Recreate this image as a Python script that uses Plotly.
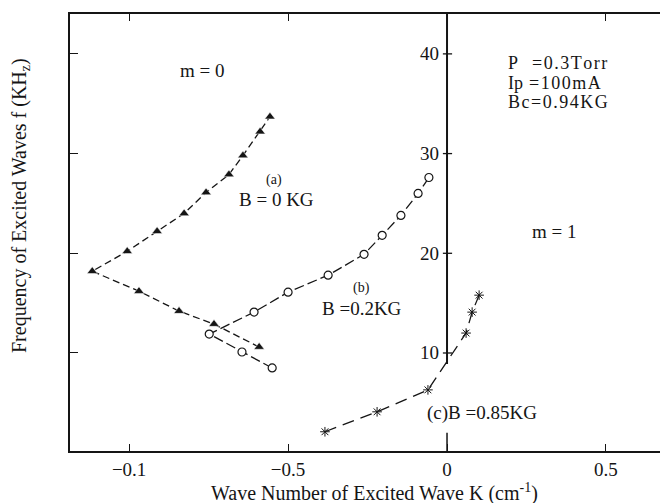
import plotly.graph_objects as go

# ---- data ----
a_k = [-0.591, -0.733, -0.843, -0.969, -1.116, -1.006, -0.912, -0.827, -0.758, -0.686, -0.642, -0.588, -0.557]
a_f = [10.6, 12.9, 14.2, 16.2, 18.2, 20.2, 22.2, 24.0, 26.1, 27.9, 29.8, 32.2, 33.7]

b_k = [-0.550, -0.645, -0.748, -0.607, -0.500, -0.374, -0.261, -0.204, -0.145, -0.091, -0.057]
b_f = [8.5, 10.1, 11.9, 14.1, 16.1, 17.8, 19.9, 21.8, 23.8, 26.0, 27.6]

c_k = [-0.384, -0.220, -0.060, 0.060, 0.079, 0.101]
c_f = [2.1, 4.1, 6.3, 12.0, 14.1, 15.8]

x_tickvals = [-1.0, -0.5, 0, 0.5]
x_ticktext = ["\u22120.1", "\u22120.5", "0", "0.5"]
y_tickvals = [10, 20, 30, 40]
y_ticktext = ["10", "20", "30", "40"]

X_RANGE = [-1.186, 0.670]
Y_RANGE = [0.17, 44.0]

FONT = "Liberation Serif, Times New Roman, serif"
INK = "#151515"


def spaced(s, sp="\u200a"):
    return sp.join(s)


fig = go.Figure()

fig.add_trace(go.Scatter(
    x=a_k, y=a_f, mode="lines+markers",
    line=dict(color=INK, width=1.3, dash="7px,4px"),
    marker=dict(symbol="triangle-up", size=9, color=INK, line=dict(color="white", width=0.5)),
    showlegend=False))

fig.add_trace(go.Scatter(
    x=b_k, y=b_f, mode="lines+markers",
    line=dict(color=INK, width=1.3, dash="10px,4px"),
    marker=dict(symbol="circle", size=8, color="white", line=dict(color=INK, width=1.2)),
    showlegend=False))

fig.add_trace(go.Scatter(
    x=c_k, y=c_f, mode="lines+markers",
    line=dict(color=INK, width=1.3, dash="12px,7px"),
    marker=dict(symbol="asterisk-open", size=8, color=INK, line=dict(color=INK, width=1.0)),
    showlegend=False))

shapes = []
# central (k = 0) frequency axis
shapes.append(dict(type="line", xref="x", yref="y", x0=0, x1=0, y0=8.9, y1=Y_RANGE[1],
                   line=dict(color=INK, width=2)))
shapes.append(dict(type="line", xref="x", yref="y", x0=0, x1=0, y0=Y_RANGE[0], y1=2.0,
                   line=dict(color=INK, width=1.5)))
annotations = []
for v, t in zip(y_tickvals, y_ticktext):
    shapes.append(dict(type="line", xref="x", yref="y", x0=-0.013, x1=0.016, y0=v, y1=v,
                       line=dict(color=INK, width=1.3)))
    annotations.append(dict(x=0, y=v, xref="x", yref="y", text=t, showarrow=False,
                            xanchor="right", yanchor="middle", xshift=-6,
                            font=dict(family=FONT, size=19, color=INK)))


def note(x, y, text, size=18, xanchor="center", angle=0):
    # positions in pixel space of the 660x503 canvas, converted to paper coords
    px = (x - 70) / 590.0
    py = (451 - y) / 437.0
    annotations.append(dict(x=px, y=py, xref="paper", yref="paper", text=text, showarrow=False,
                            xanchor=xanchor, yanchor="middle", align="left", textangle=angle,
                            font=dict(family=FONT, size=size, color=INK)))


note(202, 70, "m&nbsp;=&nbsp;0", 19)
note(274, 180, "(a)", 14)
note(276, 199, "B&nbsp;=&nbsp;0&nbsp;KG", 19)
note(361, 288, "(b)", 14)
note(362, 308, "B =0.2KG", 19)
note(482, 413, "(c)B =0.85KG", 19)
note(506, 63, "P", 18, xanchor="left")
note(530, 63, spaced("=0.3Torr"), 18, xanchor="left")
note(506, 83, "Ip", 18, xanchor="left")
note(527, 83, spaced("=100mA"), 18, xanchor="left")
note(506, 102, spaced("Bc=0.94KG"), 18, xanchor="left")
note(554, 232, "m&nbsp;=&nbsp;1", 19)

# axis titles
note(20, 206, "Frequency of Excited Waves f (KH<sub>z</sub>)", 20, angle=-90)
note(374, 492, "Wave Number of Excited Wave K (cm<sup>-1</sup>)", 20)

fig.update_layout(
    width=660, height=503,
    margin=dict(l=70, r=0, t=14, b=52),
    paper_bgcolor="white", plot_bgcolor="white",
    shapes=shapes, annotations=annotations,
    font=dict(family=FONT, color=INK),
    xaxis=dict(range=X_RANGE, showgrid=False, zeroline=False,
               showline=True, linecolor=INK, linewidth=2, mirror="ticks",
               ticks="inside", ticklen=7, tickwidth=1.3, tickcolor=INK,
               tickvals=x_tickvals, ticktext=x_ticktext,
               tickfont=dict(family=FONT, size=19, color=INK)),
    yaxis=dict(range=Y_RANGE, showgrid=False, zeroline=False,
               showline=True, linecolor=INK, linewidth=2, mirror=False,
               ticks="inside", ticklen=8, tickwidth=1.3, tickcolor=INK,
               tickvals=y_tickvals, showticklabels=False),
)

fig.write_html("out.html", config={"displayModeBar": False},
               post_script="document.body.style.margin='0';document.body.style.padding='0';")
